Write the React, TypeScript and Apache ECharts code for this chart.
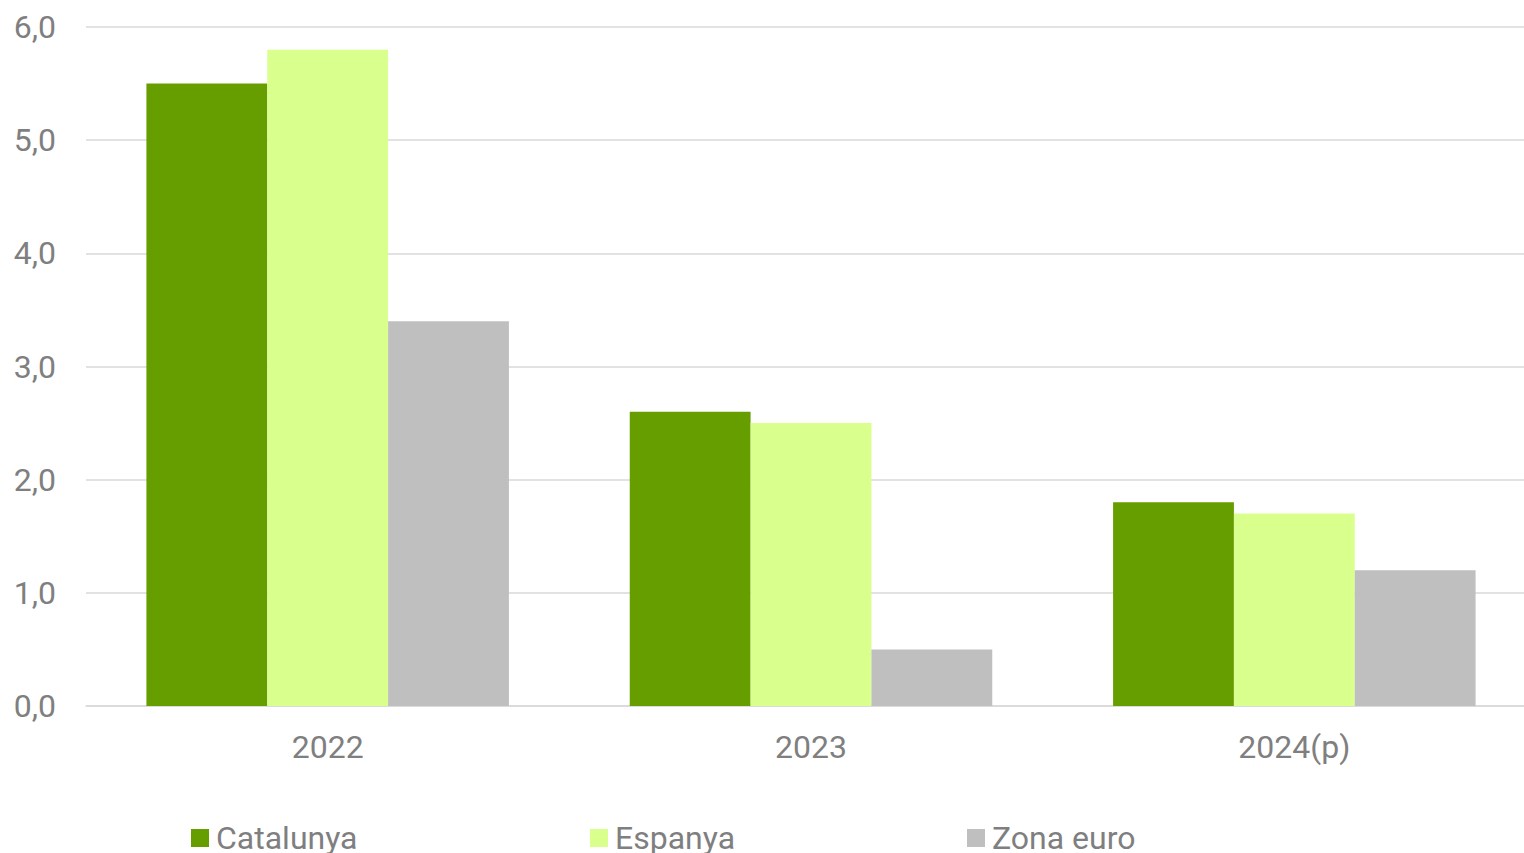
import React, { useEffect, useRef } from "react";
import * as echarts from "echarts";

const categories = ["2022", "2023", "2024(p)"];
const catalunya = [5.5, 2.6, 1.8];
const espanya = [5.8, 2.5, 1.7];
const zonaEuro = [3.4, 0.5, 1.2];
const seriesNames = ["Catalunya", "Espanya", "Zona euro"];
const colors = ["#669e00", "#d9ff8c", "#bfbfbf"];

export default function App() {
  const ref = useRef<HTMLDivElement>(null);
  useEffect(() => {
    if (!ref.current) return;
    const chart = echarts.init(ref.current, undefined, { renderer: "svg" });
    const textColor = "#7f7f7f";
    const font = "Roboto";
    const legendLefts = [191, 590, 967];
    chart.setOption({
      animation: false,
      backgroundColor: "#ffffff",
      grid: { left: 86, right: 0, top: 27, height: 679, containLabel: false },
      xAxis: {
        type: "category",
        data: categories,
        axisLine: { show: true, lineStyle: { color: "#d9d9d9", width: 1.5 } },
        axisTick: { show: false },
        axisLabel: { color: textColor, fontFamily: font, fontSize: 32, margin: 25 },
      },
      yAxis: {
        type: "value",
        min: 0,
        max: 6,
        interval: 1,
        axisLine: { show: false },
        axisTick: { show: false },
        splitLine: { show: true, lineStyle: { color: "#d9d9d9", width: 1.5 } },
        axisLabel: {
          color: textColor,
          fontFamily: font,
          fontSize: 32,
          margin: 30,
          formatter: (v: number) => v.toFixed(1).replace(".", ","),
        },
      },
      legend: seriesNames.map((n, i) => ({
        data: [n],
        left: legendLefts[i],
        top: 822,
        padding: 0,
        itemWidth: 18,
        itemHeight: 18,
        itemGap: 7,
        icon: "rect",
        textStyle: { color: textColor, fontFamily: font, fontSize: 32, padding: [0, 0, 0, 2] },
      })),
      series: [catalunya, espanya, zonaEuro].map((d, i) => ({
        name: seriesNames[i],
        type: "bar",
        data: d,
        barGap: "0%",
        barCategoryGap: "25%",
        itemStyle: { color: colors[i] },
      })),
    });
    return () => chart.dispose();
  }, []);
  return (
    <div style={{ position: "fixed", left: 0, top: 0, width: 1524, height: 853, overflow: "hidden", background: "#fff" }}>
      <div ref={ref} style={{ width: 1536, height: 853 }} />
    </div>
  );
}
